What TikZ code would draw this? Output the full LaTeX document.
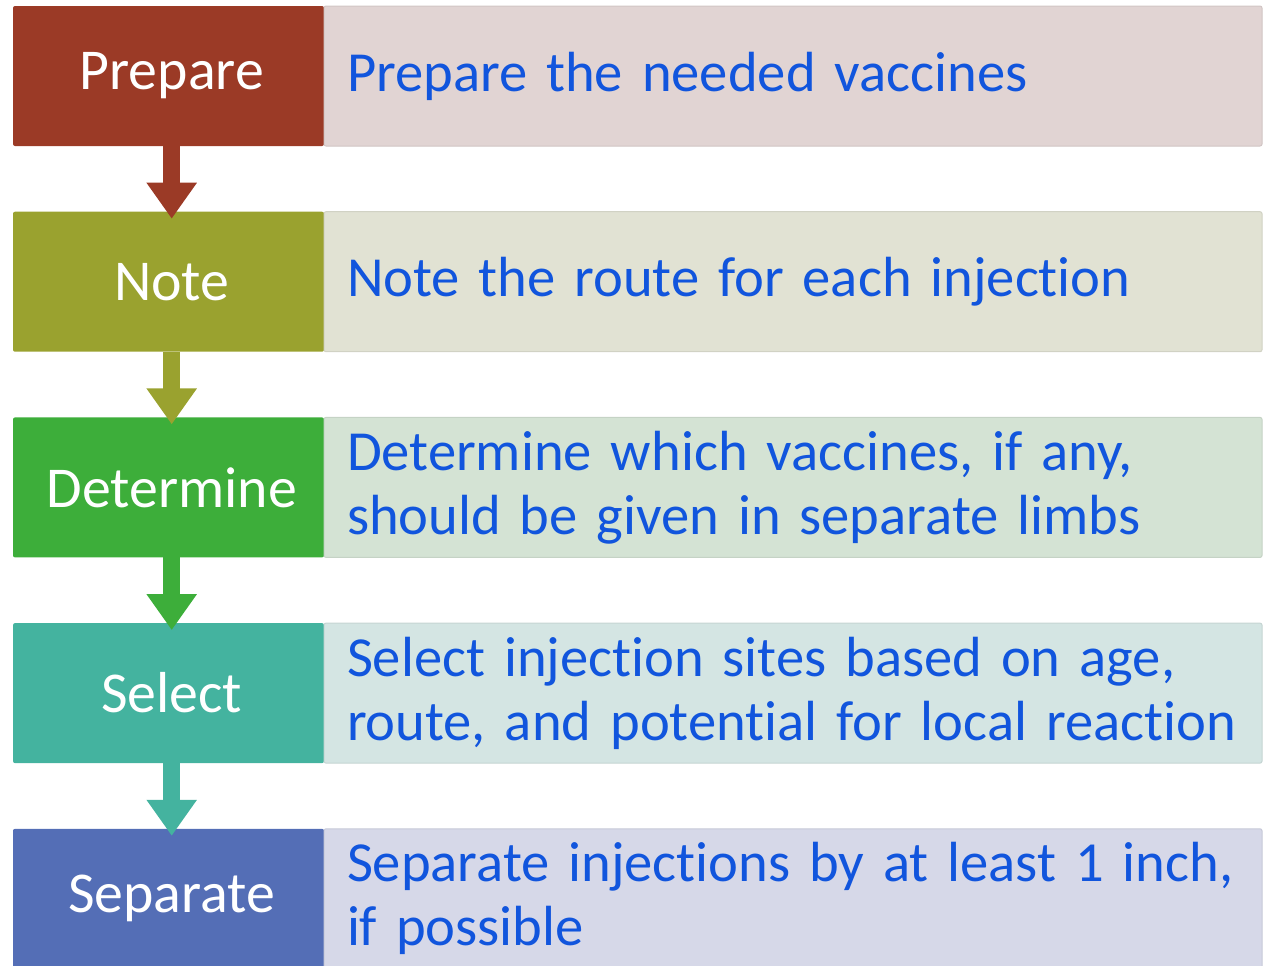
\documentclass[tikz,border=0pt]{standalone}
\usepackage{fontspec}
\setmainfont{Carlito}[Ligatures=NoCommon, WordSpace=0.95]
\usetikzlibrary{arrows.meta, positioning}

\definecolor{prepdark}{RGB}{155,58,38}
\definecolor{notedark}{RGB}{154,162,47}
\definecolor{detdark}{RGB}{61,174,58}
\definecolor{seldark}{RGB}{68,179,159}
\definecolor{sepdark}{RGB}{84,110,182}
\definecolor{preplight}{RGB}{225,212,211}
\definecolor{notelight}{RGB}{225,226,211}
\definecolor{detlight}{RGB}{212,227,212}
\definecolor{sellight}{RGB}{212,229,227}
\definecolor{seplight}{RGB}{214,216,232}
\definecolor{textblue}{RGB}{17,85,221}

\begin{document}
\begin{tikzpicture}[
    every node/.style={font=\fontsize{28.3pt}{32pt}\selectfont},
    stepbox/.style={
        rectangle,
        rounded corners=1pt,
        outer sep=0pt,
        text=white,
        font=\fontsize{28.9pt}{32pt}\selectfont,
        minimum width=155.5pt,
        minimum height=70pt,
        align=center,
        execute at begin node={\hspace*{3.2pt}}
    },
    descbox/.style={
        rectangle,
        rounded corners=1pt,
        outer sep=0pt,
        line width=0.5pt,
        text=textblue,
        minimum width=469pt,
        minimum height=70pt,
        inner xsep=11.5pt,
        text width=446pt,
        align=left,
        execute at begin node={\hyphenpenalty=10000}
    },
    arrow/.style={
        line width=8.5pt,
        -{Triangle[length=18pt, width=24pt]},
        shorten >=-3.5pt
    }
]

\useasboundingbox (0,0) rectangle (634pt,-482.5pt);
\clip (0,0) rectangle (634pt,-482.5pt);

% Step boxes (left column)
\node[stepbox, fill=prepdark, anchor=north west] (prepare) at (6.5pt,-3pt) {Prepare};
\node[stepbox, fill=notedark, below=32.85pt of prepare] (note) {Note};
\node[stepbox, fill=detdark, below=32.85pt of note] (determine) {Determine};
\node[stepbox, fill=seldark, below=32.85pt of determine] (select) {Select};
\node[stepbox, fill=sepdark, below=32.85pt of select] (separate) {Separate};

% Description boxes (right column)
\node[descbox, fill=preplight, draw=preplight!93!black, right=0pt of prepare] (prepdesc)
    {Prepare the needed vaccines};
\node[descbox, fill=notelight, draw=notelight!93!black, right=0pt of note] (notedesc)
    {Note the route for each injection};
\node[descbox, fill=detlight, draw=detlight!93!black, right=0pt of determine] (detdesc)
    {Determine which vaccines, if any,\\should be given in separate limbs};
\node[descbox, fill=sellight, draw=sellight!93!black, right=0pt of select] (seldesc)
    {Select injection sites based on age,\\route, and potential for local reaction};
\node[descbox, fill=seplight, draw=seplight!93!black, right=0pt of separate] (sepdesc)
    {Separate injections by at least 1 inch,\\if possible};

% Arrows between steps
\draw[arrow, draw=prepdark] ([xshift=1.6pt]prepare.south) -- ([xshift=1.6pt]note.north);
\draw[arrow, draw=notedark] ([xshift=1.6pt]note.south) -- ([xshift=1.6pt]determine.north);
\draw[arrow, draw=detdark] ([xshift=1.6pt]determine.south) -- ([xshift=1.6pt]select.north);
\draw[arrow, draw=seldark] ([xshift=1.6pt]select.south) -- ([xshift=1.6pt]separate.north);

\end{tikzpicture}
\end{document}
